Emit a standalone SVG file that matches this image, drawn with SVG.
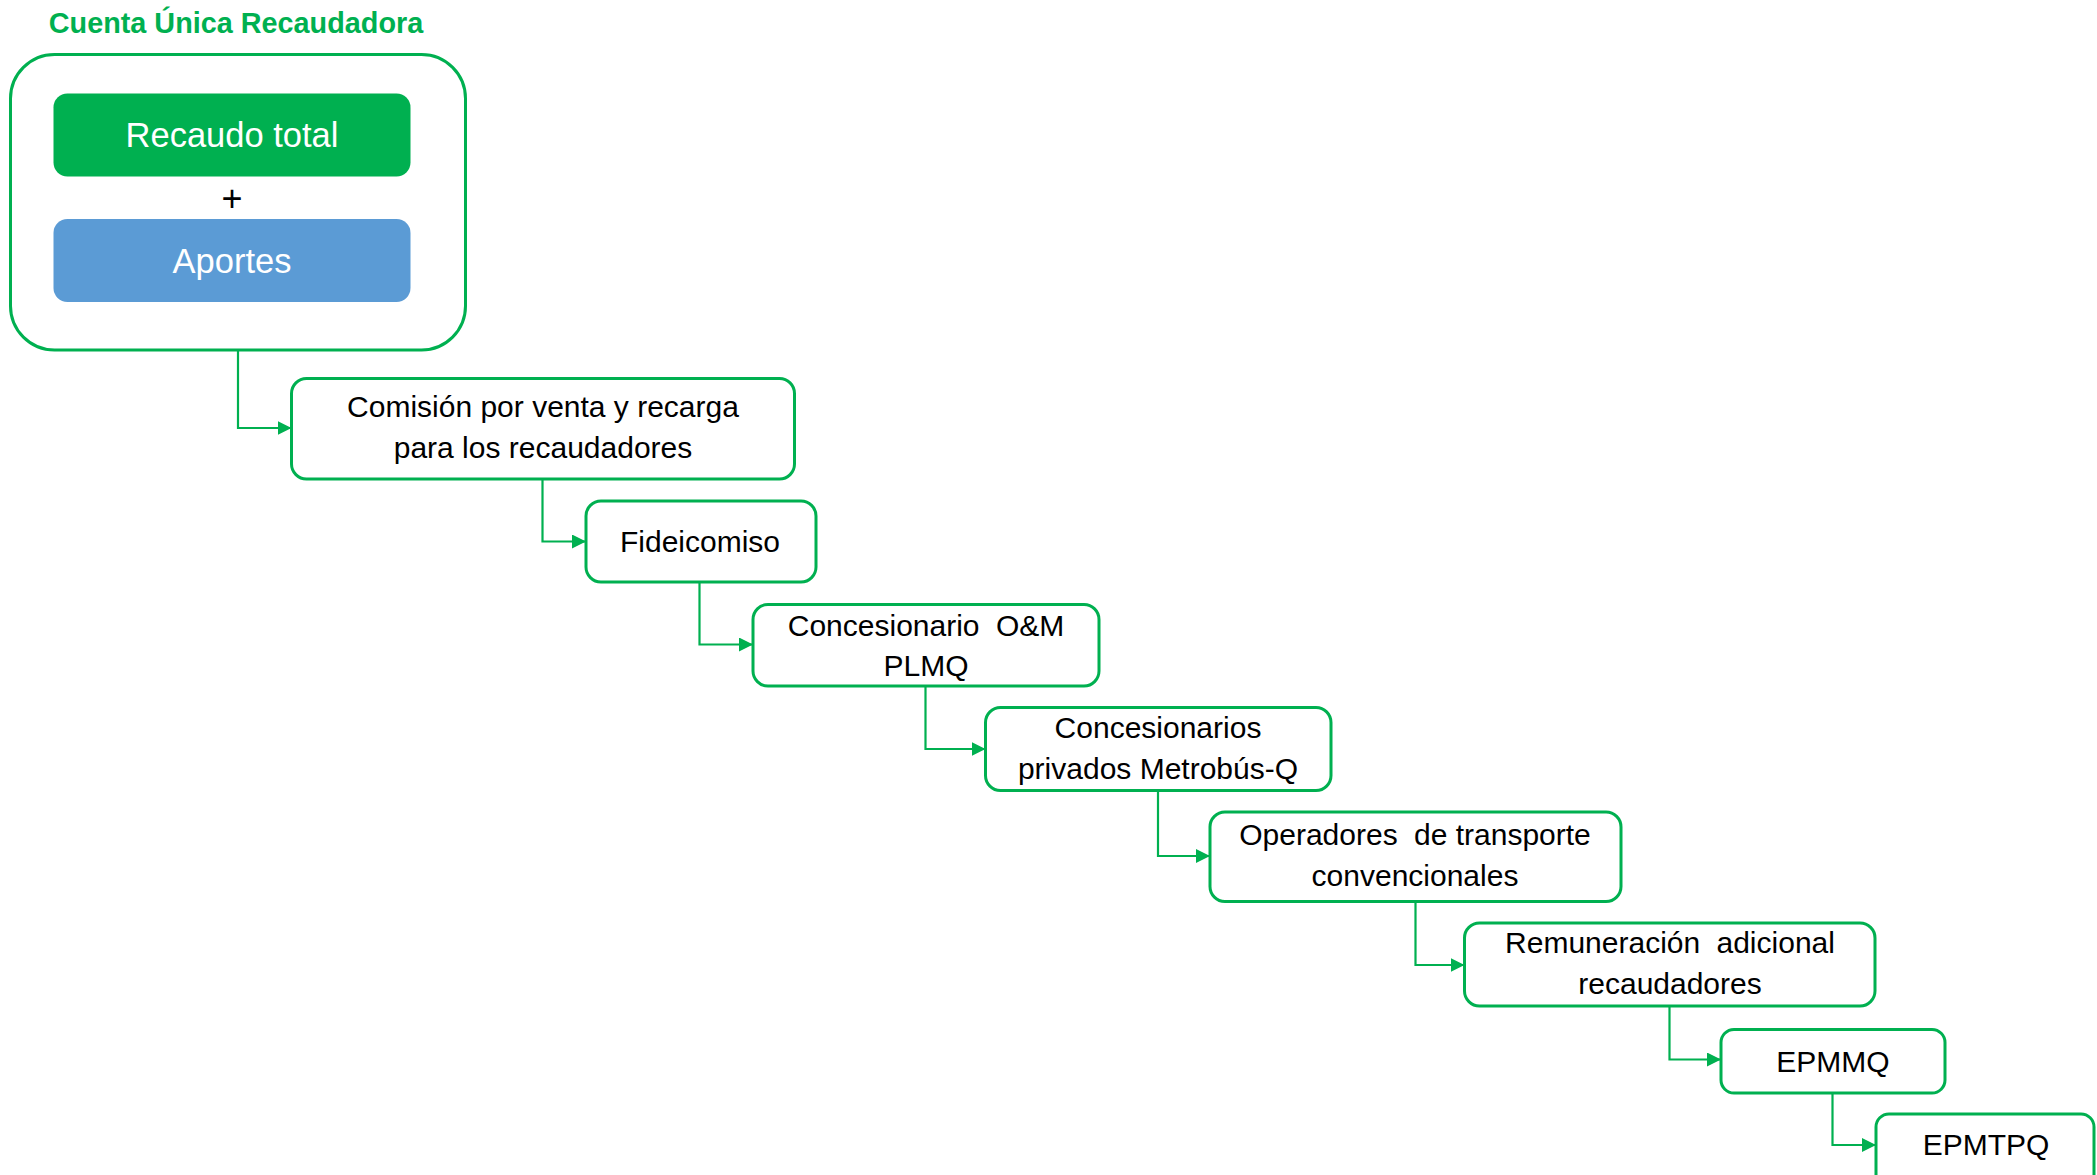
<svg xmlns="http://www.w3.org/2000/svg" width="2097" height="1175" viewBox="0 0 2097 1175">
<style>
  .box{fill:#ffffff;stroke:#00B050;stroke-width:3}
  .t{font-family:"Liberation Sans",Arial,sans-serif;font-size:30px;fill:#000000;text-anchor:middle}
  .w{font-family:"Liberation Sans",Arial,sans-serif;font-size:34.5px;fill:#ffffff;text-anchor:middle}
  .conn{fill:none;stroke:#00B050;stroke-width:2.2}
</style>
<defs>
  <marker id="arr" markerUnits="userSpaceOnUse" markerWidth="14" markerHeight="14" refX="14" refY="7" orient="auto">
    <path d="M0,0 L14,7 L0,14 Z" fill="#00B050"/>
  </marker>
</defs>
<rect width="2097" height="1175" fill="#ffffff"/>

<g id="cuenta-unica">
  <text x="236" y="32.5" font-family="'Liberation Sans',Arial,sans-serif" font-weight="bold" font-size="28.8" fill="#00B050" text-anchor="middle">Cuenta Única Recaudadora</text>
  <rect x="10.5" y="54.5" width="455" height="295.5" rx="44" class="box"/>
</g>
<g id="recaudo-total">
  <rect x="53.5" y="93.5" width="357" height="83" rx="14" fill="#00B050"/>
  <text x="232" y="147" class="w">Recaudo total</text>
</g>
<g id="plus">
  <text x="232" y="211" font-family="'Liberation Sans',Arial,sans-serif" font-size="36" fill="#000000" text-anchor="middle">+</text>
</g>
<g id="aportes">
  <rect x="53.5" y="219" width="357" height="83" rx="14" fill="#5B9BD5"/>
  <text x="232" y="273" class="w">Aportes</text>
</g>

<g id="comision">
  <rect x="291.5" y="378.5" width="503" height="100.5" rx="15" class="box"/>
  <text x="543" y="417" class="t">Comisión por venta y recarga</text>
  <text x="543" y="458" class="t">para los recaudadores</text>
</g>
<g id="fideicomiso">
  <rect x="586" y="501" width="230" height="81" rx="15" class="box"/>
  <text x="700" y="552" class="t">Fideicomiso</text>
</g>
<g id="concesionario-om">
  <rect x="753" y="604.5" width="346" height="81.5" rx="15" class="box"/>
  <text x="926" y="636" class="t">Concesionario <tspan dx="8">O&amp;M</tspan></text>
  <text x="926" y="676" class="t">PLMQ</text>
</g>
<g id="concesionarios">
  <rect x="985.5" y="707.5" width="345.5" height="83" rx="15" class="box"/>
  <text x="1158" y="738" class="t">Concesionarios</text>
  <text x="1158" y="779" class="t">privados Metrobús-Q</text>
</g>
<g id="operadores">
  <rect x="1210" y="812" width="411" height="89.5" rx="15" class="box"/>
  <text x="1415" y="845" class="t">Operadores <tspan dx="8">de transporte</tspan></text>
  <text x="1415" y="886" class="t">convencionales</text>
</g>
<g id="remuneracion">
  <rect x="1464.5" y="923" width="410.5" height="83" rx="15" class="box"/>
  <text x="1670" y="953" class="t">Remuneración <tspan dx="8">adicional</tspan></text>
  <text x="1670" y="994" class="t">recaudadores</text>
</g>
<g id="epmmq">
  <rect x="1721" y="1029.5" width="224" height="63.5" rx="13" class="box"/>
  <text x="1833" y="1071.5" class="t">EPMMQ</text>
</g>
<g id="epmtpq">
  <rect x="1876" y="1114" width="218" height="90" rx="13" class="box"/>
  <text x="1986" y="1155" class="t">EPMTPQ</text>
</g>

<g id="connectors">
  <path class="conn" d="M238,350 V428 H291.5" marker-end="url(#arr)"/>
  <path class="conn" d="M542.5,479 V541.5 H586" marker-end="url(#arr)"/>
  <path class="conn" d="M699.5,582 V644.5 H753" marker-end="url(#arr)"/>
  <path class="conn" d="M925.5,686 V749 H985.5" marker-end="url(#arr)"/>
  <path class="conn" d="M1158,790.5 V856 H1210" marker-end="url(#arr)"/>
  <path class="conn" d="M1415.5,901.5 V965 H1464.5" marker-end="url(#arr)"/>
  <path class="conn" d="M1669.5,1006 V1059.5 H1721" marker-end="url(#arr)"/>
  <path class="conn" d="M1832.5,1093 V1145 H1876" marker-end="url(#arr)"/>
</g>
</svg>
